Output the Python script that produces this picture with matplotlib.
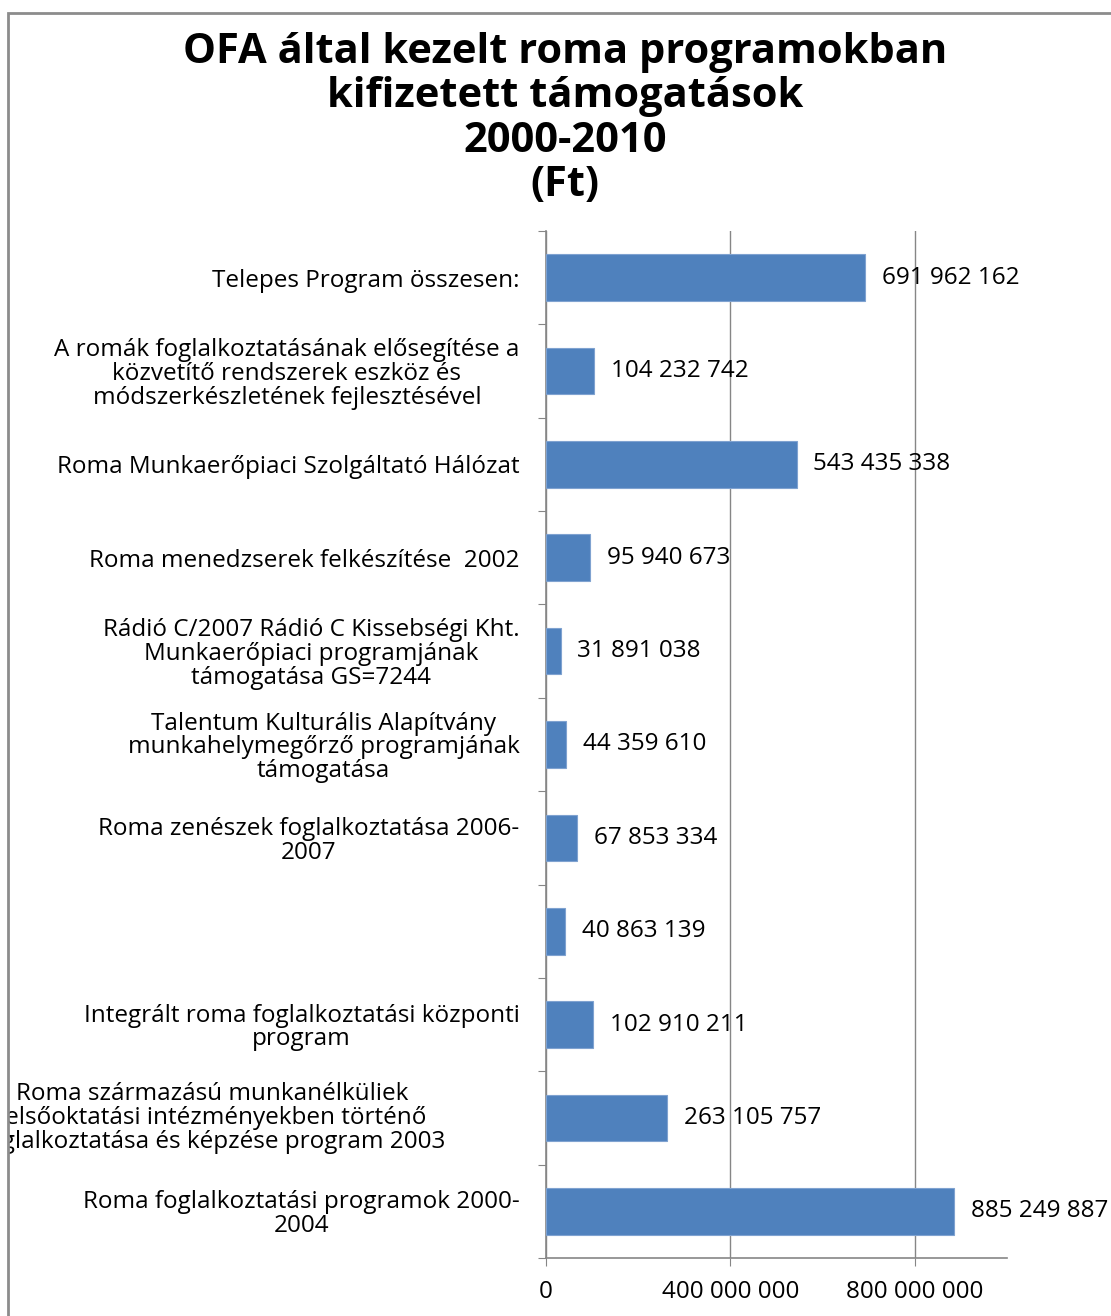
import matplotlib.pyplot as plt
from matplotlib.patches import Rectangle
from matplotlib.transforms import blended_transform_factory

plt.rcParams['font.family'] = ['Open Sans', 'DejaVu Sans']

labels = [
    "Telepes Program összesen:",
    "A romák foglalkoztatásának elősegítése a\nközvetítő rendszerek eszköz és\nmódszerkészletének fejlesztésével",
    "Roma Munkaerőpiaci Szolgáltató Hálózat",
    "Roma menedzserek felkészítése  2002",
    "Rádió C/2007 Rádió C Kissebségi Kht.\nMunkaerőpiaci programjának\ntámogatása GS=7244",
    "Talentum Kulturális Alapítvány\nmunkahelymegőrző programjának\ntámogatása",
    "Roma zenészek foglalkoztatása 2006-\n2007",
    "",
    "Integrált roma foglalkoztatási központi\nprogram",
    "Roma származású munkanélküliek\nfelsőoktatási intézményekben történő\nfoglalkoztatása és képzése program 2003",
    "Roma foglalkoztatási programok 2000-\n2004",
]
values = [691962162, 104232742, 543435338, 95940673, 31891038, 44359610,
          67853334, 40863139, 102910211, 263105757, 885249887]
xticks = [0, 400000000, 800000000]

title = "OFA által kezelt roma programokban\nkifizetett támogatások\n2000-2010\n(Ft)"

W, H = 1111, 1316
fs = 17.5
fig = plt.figure(figsize=(W / 100, H / 100), dpi=100)
ax = fig.add_axes([546 / W, 1 - 1258 / H, (1007 - 546) / W, (1258 - 231) / H])

grey = '#868686'
pos = list(range(len(values)))
ax.barh(pos, values, height=0.5, color='#4F81BD', edgecolor='#7FA2D0', linewidth=0.8, zorder=3)

ax.set_xlim(0, 1000000000)
ax.set_ylim(len(values) - 0.5, -0.5)
ax.set_xticks(xticks)
ax.set_xticklabels([f"{v:,}".replace(",", " ") for v in xticks], fontsize=fs)
ax.xaxis.grid(True, color=grey, linewidth=1, zorder=0)

# category boundaries as y ticks, labels as minor ticks
ax.set_yticks([p - 0.5 for p in pos] + [len(values) - 0.5])
ax.set_yticklabels([])
ax.set_yticks(pos, minor=True)
shown = [l if i != 9 else "" for i, l in enumerate(labels)]
ax.set_yticklabels(shown, minor=True, fontsize=fs, multialignment='center',
                   linespacing=0.98)
ax.tick_params(axis='y', which='minor', length=0, pad=19)
ax.tick_params(axis='y', which='major', length=6, color=grey)
ax.tick_params(axis='x', length=6, color=grey, pad=10)

for s in ['top', 'right']:
    ax.spines[s].set_visible(False)
for s in ['left', 'bottom']:
    ax.spines[s].set_color(grey)
    ax.spines[s].set_linewidth(1.2)

for p, v in zip(pos, values):
    ax.annotate(f"{v:,}".replace(",", " "), (v, p), xytext=(12, 0),
                textcoords='offset points', va='center', ha='left', fontsize=fs,
                zorder=4)

# the long label that runs past the chart border (cut off as in the original)
tr = blended_transform_factory(fig.transFigure, ax.transData)
t = ax.text(212 / W, 9, labels[9], transform=tr, ha='center', va='center',
            multialignment='center', fontsize=fs, linespacing=0.98, clip_on=True)
border = Rectangle((8 / W, -0.1), 1.2, 1 - 13 / H + 0.1, transform=fig.transFigure,
                   fill=False, edgecolor='#8c8c8c', linewidth=2)
fig.patches.append(border)
t.set_clip_path(border)

fig.text(565 / W, 1 - 119 / H, title, ha='center', va='center', fontsize=30,
         fontweight='bold', linespacing=1.1)

fig.savefig('out.png', dpi=100)
